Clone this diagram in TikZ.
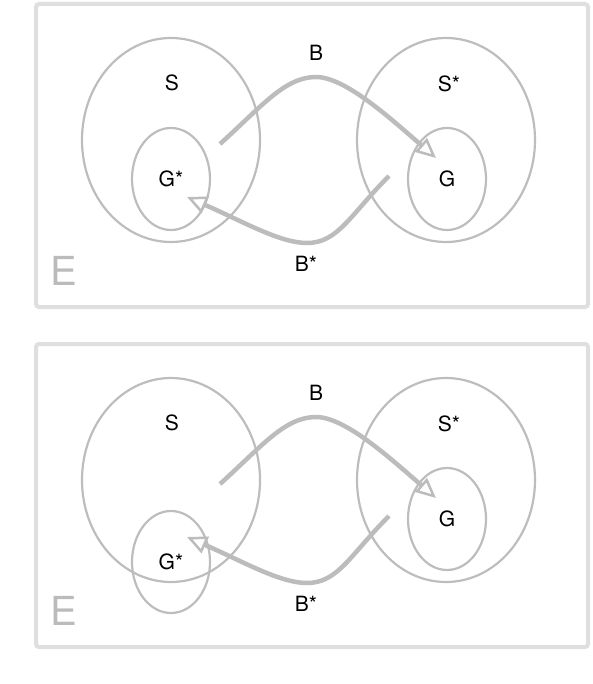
\documentclass[tikz,border=0pt]{standalone}
\usepackage{fontspec}
\setmainfont{TeX Gyre Heros}
\usetikzlibrary{arrows.meta,shapes.geometric}
\definecolor{ring}{HTML}{BDBDBD}
\definecolor{frame}{HTML}{DEDFDE}
\definecolor{flow}{HTML}{BCBCBC}
\definecolor{letter}{HTML}{BBBBBB}

\begin{document}
\begin{tikzpicture}[x=1pt,y=-1pt,font=\fontsize{21}{24}\selectfont,
  set/.style={draw=ring,line width=2.2pt,ellipse,inner sep=0pt},
  panel/.style={draw=frame,line width=4pt,rounded corners=3pt},
  flowarrow/.style={draw=flow,line width=4.5pt,
    -{Triangle[open,length=20pt,width=18pt,line width=2.5pt]}}]
  \useasboundingbox (0,0) rectangle (592,684);
  \foreach \p/\dy/\gy in {1/0/179,2/340/562} {
    \draw[panel] (36,{4+\dy}) rectangle (588,{307+\dy});
    \node[text=letter,font=\fontsize{40}{44}\selectfont] (E\p) at (64,{271+\dy}) {E};
    % sets
    \node[set,minimum width=178pt,minimum height=204pt] (S\p) at (171,{140+\dy}) {};
    \node[set,minimum width=178pt,minimum height=204pt] (Ss\p) at (446,{140+\dy}) {};
    \node[set,minimum width=78pt,minimum height=102pt] (Gs\p) at (171,\gy) {G*};
    \node[set,minimum width=78pt,minimum height=102pt] (G\p) at (447,{179+\dy}) {G};
    \node (Slab\p) at (172,{83+\dy}) {S};
    \node (Sslab\p) at (449,{84+\dy}) {S*};
    \node (Blab\p) at (316,{53+\dy}) {B};
    \node (Bslab\p) at (306,{264+\dy}) {B*};
    % forward and backward moves
    \coordinate (bin\p) at (220,{144+\dy});
    \coordinate (btop\p) at (316,{77+\dy});
    \coordinate (bout\p) at (436,{158+\dy});
    \coordinate (rin\p) at (389,{176+\dy});
    \coordinate (rlow\p) at (307,{243+\dy});
    \coordinate (rout\p) at (187,{197+\dy});
    \draw[flowarrow] (bin\p) .. controls +(42,-38) and +(-31,0) .. (btop\p)
      .. controls +(29,0) and +(-46,-40) .. (bout\p);
    \draw[flowarrow] (rin\p) .. controls +(-39,39) and +(31,0) .. (rlow\p)
      .. controls +(-27,0) and +(57,25) .. (rout\p);
  }
\end{tikzpicture}
\end{document}
